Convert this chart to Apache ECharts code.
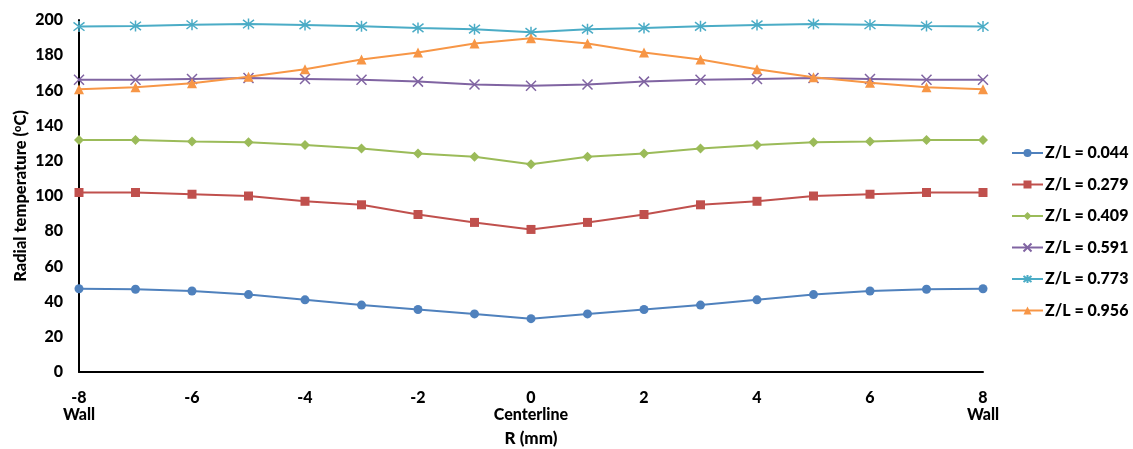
<!DOCTYPE html>
<html>
<head>
<meta charset="utf-8">
<script src="https://cdn.jsdelivr.net/npm/echarts@6/dist/echarts.min.js"></script>
<style>
html,body{margin:0;padding:0;background:#fff;}
#chart{width:1133px;height:449px;}
</style>
</head>
<body>
<div id="chart"></div>
<script>
// ---- data ----
const rValues = [-8,-7,-6,-5,-4,-3,-2,-1,0,1,2,3,4,5,6,7,8];
const seriesNames = ['Z/L = 0.044','Z/L = 0.279','Z/L = 0.409','Z/L = 0.591','Z/L = 0.773','Z/L = 0.956'];
const z0044 = [47.3,47,46,44,41,38,35.5,33,30.3,33,35.5,38,41,44,46,47,47.3];
const z0279 = [102,102,101,100,97,95,89.5,85,81,85,89.5,95,97,100,101,102,102];
const z0409 = [131.8,131.8,131,130.5,129,127,124.2,122.3,118,122.3,124.2,127,129,130.5,131,131.8,131.8];
const z0591 = [166,166,166.5,167,166.5,166,165,163.3,162.6,163.3,165,166,166.5,167,166.5,166,166];
const z0773 = [196.3,196.6,197.3,197.7,197.2,196.4,195.5,194.8,193,194.8,195.5,196.4,197.2,197.7,197.3,196.6,196.3];
const z0956 = [160.6,161.8,164,167.8,172,177.5,181.5,186.7,189.6,186.7,181.5,177.5,172,167.5,164.3,161.8,160.6];
const xTickValues = [-8,-6,-4,-2,0,2,4,6,8];
const xTickSubLabels = {'-8':'Wall','0':'Centerline','8':'Wall'};
const yTicks = [0,20,40,60,80,100,120,140,160,180,200];

const colors = ['#4F81BD','#C0504D','#9BBB59','#8064A2','#4BACC6','#F79646'];
const symbols = [
  'circle',
  'rect',
  'diamond',
  'path://M0,0L10,10M10,0L0,10',
  'path://M0,0L10,10M10,0L0,10M5,-1.5L5,11.5',
  'triangle'
];
const sizes = [9,9,10,10,11,10];
const allData = [z0044,z0279,z0409,z0591,z0773,z0956];

const FONT = 'Lato';
const chart = echarts.init(document.getElementById('chart'));
const series = allData.map((arr,i)=>{
  const open = i===3 || i===4;
  return {
    name: seriesNames[i],
    type: 'line',
    data: rValues.map((r,k)=>[r,arr[k]]),
    symbol: symbols[i],
    symbolSize: sizes[i],
    showAllSymbol: true,
    lineStyle: {color: colors[i], width: 2},
    itemStyle: open ? {color: 'rgba(0,0,0,0)', borderColor: colors[i], borderWidth: 1.5}
                    : {color: colors[i], borderColor: colors[i], borderWidth: 0},
    emphasis: {disabled: true},
    z: 2 + i
  };
});

chart.setOption({
  animation: false,
  backgroundColor: '#fff',
  grid: {left: 79, right: 150, top: 20, bottom: 77, containLabel: false, outerBoundsMode: 'none'},
  legend: {
    orient: 'vertical',
    left: 1011,
    top: 145,
    padding: 0,
    itemWidth: 31,
    itemHeight: 10,
    itemGap: 15.5,
    data: seriesNames,
    textStyle: {fontFamily: FONT, fontWeight: 900, fontSize: 16, color: '#000', padding: [0,0,0,-3]},
    selectedMode: false
  },
  xAxis: {
    type: 'value',
    min: -8, max: 8, interval: 2,
    name: 'R (mm)',
    nameLocation: 'middle',
    nameGap: 58,
    nameMoveOverlap: false,
    nameTextStyle: {fontFamily: FONT, fontWeight: 900, fontSize: 17, color: '#000'},
    axisLine: {show: true, onZero: false, lineStyle: {color: '#000', width: 2}},
    axisTick: {show: false},
    splitLine: {show: false},
    axisLabel: {
      fontFamily: FONT, fontWeight: 900, fontSize: 16, color: '#000',
      margin: 17, lineHeight: 17,
      customValues: xTickValues,
      formatter: v => { const s = xTickSubLabels[String(v)]; return s ? v + '\n' + s : String(v); }
    }
  },
  yAxis: {
    type: 'value',
    min: 0, max: 200, interval: 20,
    name: 'Radial temperature ({sup|o}C)',
    nameLocation: 'middle',
    nameGap: 50,
    nameMoveOverlap: false,
    nameRotate: 90,
    nameTextStyle: {fontFamily: FONT, fontWeight: 900, fontSize: 16.5, color: '#000',
      rich: {sup: {fontFamily: FONT, fontWeight: 900, fontSize: 11, color: '#000', verticalAlign: 'top', padding:[0,0,6,0]}}},
    axisLine: {show: true, onZero: false, lineStyle: {color: '#000', width: 2}},
    axisTick: {show: false},
    splitLine: {show: false},
    axisLabel: {fontFamily: FONT, fontWeight: 900, fontSize: 16, color: '#000', margin: 16,
      formatter: v => yTicks.includes(v) ? String(v) : ''}
  },
  series: series
});
</script>
</body>
</html>
